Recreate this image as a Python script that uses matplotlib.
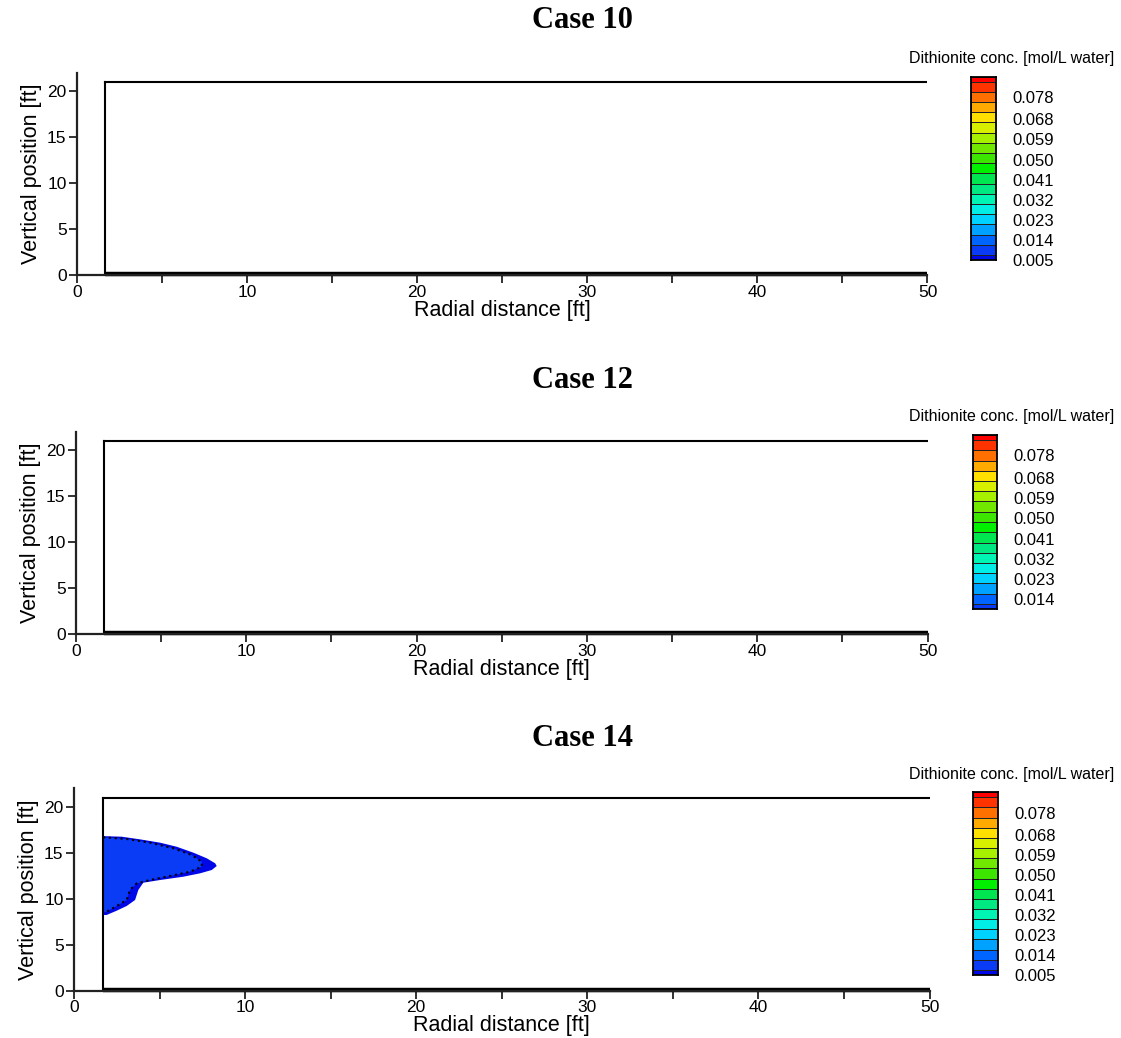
import numpy as np
import matplotlib
matplotlib.use("Agg")
import matplotlib.pyplot as plt
from matplotlib.colors import ListedColormap

# model domain (ft)
r_axis_max = 50
z_axis_max = 22
well_radius = 1.67
aquifer_top = 21

# contour bands of the legend, bottom to top
band_colors = ['#0008E8', '#0A3CF5', '#0064FF', '#00A2FF', '#00D2FF', '#00EEE6',
               '#00F5B4', '#00E882', '#00E650', '#00F000', '#3CE600', '#70E800',
               '#A6F000', '#D8F000', '#FFE000', '#FFAA00', '#FF7000', '#FF3300',
               '#FF0000']
case10_bounds = [0.0050, 0.0073, 0.0118, 0.0164, 0.0210, 0.0255, 0.0301, 0.0346,
                 0.0392, 0.0438, 0.0483, 0.0529, 0.0575, 0.0620, 0.0666, 0.0711,
                 0.0757, 0.0803, 0.0848, 0.0871]
case12_bounds = [0.0096, 0.0118, 0.0164, 0.0210, 0.0255, 0.0301, 0.0346,
                 0.0392, 0.0438, 0.0483, 0.0529, 0.0575, 0.0620, 0.0666, 0.0711,
                 0.0757, 0.0803, 0.0848, 0.0871]
case10_ticks = [0.005, 0.014, 0.023, 0.032, 0.041, 0.050, 0.059, 0.068, 0.078]
case12_ticks = [0.014, 0.023, 0.032, 0.041, 0.050, 0.059, 0.068, 0.078]

# case 14 dithionite plume: outer edge of lowest band and dotted inner contour
plume_outer_r = [1.68, 2.79, 3.86, 5.03, 6.00, 6.98, 7.76, 8.25, 8.34, 8.05, 7.37,
                 6.39, 5.03, 4.05, 3.76, 3.57, 3.08, 2.50, 1.91, 1.68]
plume_outer_z = [16.80, 16.74, 16.45, 16.09, 15.65, 15.00, 14.39, 13.85, 13.55,
                 13.12, 12.76, 12.39, 12.03, 11.74, 10.95, 9.86, 9.21, 8.70, 8.23, 8.23]
plume_inner_r = [1.70, 3.08, 4.44, 5.81, 6.88, 7.47, 7.47, 6.78, 5.61, 4.44, 3.67,
                 3.27, 3.08, 2.50, 1.91, 1.70]
plume_inner_z = [16.67, 16.49, 16.09, 15.48, 14.75, 14.02, 13.48, 12.93, 12.47,
                 12.03, 11.67, 10.95, 9.86, 9.21, 8.59, 8.48]

W, H = 1121, 1038
fig = plt.figure(figsize=(W / 100, H / 100), dpi=100)
plt.rcParams['font.family'] = ['Liberation Sans', 'DejaVu Sans']


def px_axes(x0, x1, ytop, ybot):
    return fig.add_axes([x0 / W, 1 - ybot / H, (x1 - x0) / W, (ybot - ytop) / H])


def draw_case(title, title_y, ax_box, cbar_box, cbar_title_y, bounds, ticks, plume=False):
    ax = px_axes(*ax_box)
    ax.set_xlim(0, r_axis_max)
    ax.set_ylim(0, z_axis_max)
    for s in ['top', 'right']:
        ax.spines[s].set_visible(False)
    for s in ['left', 'bottom']:
        ax.spines[s].set_linewidth(1.6)
        ax.spines[s].set_color('#222222')
    ax.set_xticks(range(0, 51, 10))
    ax.set_xticks(range(5, 50, 10), minor=True)
    ax.set_yticks(range(0, 21, 5))
    ax.tick_params(which='both', direction='out', length=5.5, width=1.3,
                   color='#222222', labelsize=12.5, pad=1.5)
    ax.tick_params(axis='y', pad=2)
    ax.set_xlabel('Radial distance [ft]', fontsize=15.5, labelpad=0)
    ax.set_ylabel('Vertical position [ft]', fontsize=15.5, labelpad=4)

    if plume:
        ax.fill(plume_outer_r, plume_outer_z, color=band_colors[0], lw=0)
        ax.fill(plume_inner_r, plume_inner_z, color=band_colors[1], lw=0)
        ax.plot(plume_inner_r, plume_inner_z, color='k', ls=(0, (1, 1.8)), lw=1.5)

    # domain outline
    ax.plot([well_radius, well_radius], [0, aquifer_top], color='k', lw=1.5)
    ax.plot([well_radius, r_axis_max], [aquifer_top, aquifer_top], color='k', lw=1.5)
    ax.plot([well_radius, r_axis_max], [0.08, 0.08], color='k', lw=3.2,
            solid_capstyle='butt', clip_on=False)

    fig.text(582 / W, 1 - title_y / H, title, ha='center', va='center',
             fontsize=22, fontweight='bold', family=['Liberation Serif', 'DejaVu Serif'])

    # legend bar
    cax = px_axes(*cbar_box)
    n = len(bounds) - 1
    colors = band_colors[len(band_colors) - n:]
    cax.pcolormesh([0, 1], bounds, np.arange(n).reshape(n, 1),
                   cmap=ListedColormap(colors), shading='flat',
                   edgecolors='#222222', linewidth=0.6)
    cax.set_xlim(0, 1)
    cax.set_ylim(bounds[0], bounds[-1])
    cax.set_xticks([])
    cax.yaxis.tick_right()
    cax.set_yticks(ticks)
    cax.set_yticklabels(['%.3f' % t for t in ticks])
    cax.tick_params(axis='y', length=0, pad=12, labelsize=12)
    for s in cax.spines.values():
        s.set_linewidth(1.3)
    fig.text(1012 / W, 1 - cbar_title_y / H, 'Dithionite conc. [mol/L water]',
             ha='center', va='center', fontsize=11.5)
    return ax


draw_case('Case 10', 21, (77, 927.5, 72.6, 275), (971, 996, 76.7, 260), 58,
          case10_bounds, case10_ticks)
draw_case('Case 12', 381, (76, 927.5, 431.6, 634), (972.5, 997, 435, 609), 417,
          case12_bounds, case12_ticks)
draw_case('Case 14', 738, (74, 929.5, 788.3, 990.7), (972.5, 997.5, 792.3, 975), 775,
          case10_bounds, case10_ticks, plume=True)

fig.savefig('out.png', dpi=100)
